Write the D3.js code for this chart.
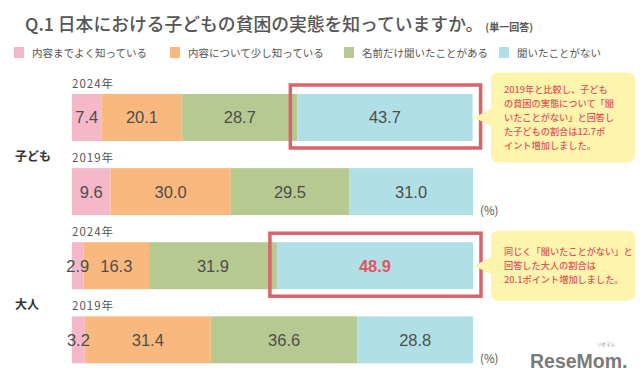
<!DOCTYPE html>
<html>
<head>
<meta charset="utf-8">
<script src="https://cdn.jsdelivr.net/npm/d3@7"></script>
<style>
  body { margin: 0; background: #fff; }
  svg { display: block; font-family: "Noto Sans CJK JP", "Liberation Sans", sans-serif; }
</style>
</head>
<body>
<div class="chart"></div>
<script>
var categories = ['内容までよく知っている', '内容について少し知っている', '名前だけ聞いたことがある', '聞いたことがない'];
var colors = ['#f5b8c9', '#f9b97e', '#b6c991', '#b0dfe5'];
var rows = ['子ども2024', '子ども2019', '大人2024', '大人2019'];
var groups = ['子ども', '大人'];
var years = ['2024年', '2019年', '2024年', '2019年'];
var values = [
  [7.4, 20.1, 28.7, 43.7],
  [9.6, 30.0, 29.5, 31.0],
  [2.9, 16.3, 31.9, 48.9],
  [3.2, 31.4, 36.6, 28.8]
];
var notes = [
  ['2019年と比較し、子ども', 'の貧困の実態について「聞', 'いたことがない」と回答し', 'た子どもの割合は12.7ポ', 'イント増加しました。'],
  ['同じく「聞いたことがない」と', '回答した大人の割合は', '20.1ポイント増加しました。']
];

var width = 640, height = 382;
var svg = d3.select('.chart').append('svg')
  .attr('width', width).attr('height', height);

// title
var title = svg.append('text')
  .attr('x', 25).attr('y', 31)
  .attr('fill', '#555').attr('font-size', 17.8).attr('font-weight', 500);
title.append('tspan').text('Q.1 日本における子どもの貧困の実態を知っていますか。');
title.append('tspan').attr('font-size', 10).attr('font-weight', 700).attr('dx', 2).text('(単一回答)');

// legend
var legendX = [14, 170, 344, 499];
var legend = svg.selectAll('.legend').data(categories).enter().append('g')
  .attr('transform', (d, i) => `translate(${legendX[i]}, 47)`);
legend.append('rect').attr('width', 10).attr('height', 11).attr('fill', (d, i) => colors[i]);
legend.append('text').attr('x', 18).attr('y', 10).attr('font-size', 10.5).attr('fill', '#555').text(d => d);

var x = d3.scaleLinear().domain([0, 100]).range([72, 473]);
var y = d3.scaleBand().domain(rows).range([94, 363.3]).paddingInner(0.366).paddingOuter(0);

var table = values.map((v, i) => {
  var o = { row: rows[i] };
  categories.forEach((c, j) => o[c] = v[j]);
  return o;
});
var series = d3.stack().keys(categories)(table);

svg.append('g').selectAll('g').data(series).enter().append('g')
  .attr('fill', (d, i) => colors[i])
  .selectAll('rect').data(d => d).enter().append('rect')
  .attr('x', d => x(d[0]))
  .attr('y', d => y(d.data.row))
  .attr('width', d => x(Math.min(d[1], 100)) - x(d[0]))
  .attr('height', y.bandwidth());

// value labels
svg.append('g').selectAll('g').data(series).enter().append('g')
  .selectAll('text').data((d, i) => d.map(p => ({ p: p, key: categories[i], ci: i }))).enter().append('text')
  .attr('x', d => (x(d.p[0]) + x(Math.min(d.p[1], 100))) / 2)
  .attr('y', d => y(d.p.data.row) + y.bandwidth() / 2)
  .attr('dy', '0.36em')
  .attr('text-anchor', 'middle')
  .attr('font-family', 'Liberation Sans, Arial, sans-serif')
  .attr('font-size', 16.5)
  .attr('fill', d => (d.p.data.row === '大人2024' && d.ci === 3) ? '#e0575f' : '#4d4d4d')
  .attr('font-weight', d => (d.p.data.row === '大人2024' && d.ci === 3) ? 700 : 400)
  .text(d => d3.format('.1f')(d.p.data[d.key]));

// year labels
svg.append('g').selectAll('text').data(rows).enter().append('text')
  .attr('x', 72).attr('y', d => y(d) - 6)
  .attr('font-size', 11.5).attr('letter-spacing', 1).attr('fill', '#555')
  .text((d, i) => years[i]);

// group labels
svg.append('g').selectAll('text').data(groups).enter().append('text')
  .attr('x', 15)
  .attr('y', (d, i) => (y(rows[i * 2]) + y.bandwidth() + y(rows[i * 2 + 1])) / 2 + 6)
  .attr('font-size', 12).attr('font-weight', 700).attr('fill', '#333')
  .text(d => d);

// (%) labels
svg.append('g').selectAll('text').data([rows[1], rows[3]]).enter().append('text')
  .attr('x', 480).attr('y', d => y(d) + y.bandwidth())
  .attr('font-size', 11.5).attr('fill', '#555')
  .text('(%)');

// highlight boxes around 聞いたことがない in 2024 rows
var hl = [0, 2];
svg.append('g').selectAll('rect').data(hl).enter().append('rect')
  .attr('x', r => x(series[3][r][0]) - 7)
  .attr('y', r => y(rows[r]) - 9)
  .attr('width', r => x(Math.min(series[3][r][1], 100)) - x(series[3][r][0]) + 15)
  .attr('height', y.bandwidth() + 16)
  .attr('fill', 'none').attr('stroke', '#d9626b').attr('stroke-width', 3.5);

// callouts
var callX = 491, callW = 144;
var callH = [90, 70];
var call = svg.append('g').selectAll('g').data(hl).enter().append('g')
  .attr('transform', (r, i) => `translate(${callX}, ${y(rows[r]) + y.bandwidth() / 2 - callH[i] / 2})`);
call.append('rect')
  .attr('width', callW).attr('height', (r, i) => callH[i])
  .attr('rx', 7).attr('fill', '#fdf4ad');
call.append('path')
  .attr('d', (r, i) => `M1,${callH[i] / 2 - 9} L-17,${callH[i] / 2} L1,${callH[i] / 2 + 9} Z`)
  .attr('fill', '#fdf4ad');
call.each(function (r, i) {
  var lines = notes[i];
  var lh = 14;
  var top = callH[i] / 2 - (lines.length - 1) * lh / 2;
  d3.select(this).selectAll('text').data(lines).enter().append('text')
    .attr('x', 13)
    .attr('y', (d, k) => top + k * lh)
    .attr('dy', '0.35em')
    .attr('font-size', 9.2).attr('font-weight', 500).attr('fill', '#e0545a')
    .text(d => d);
});

// logo
svg.append('text').attr('x', 530).attr('y', 368)
  .attr('font-family', 'Liberation Sans, Arial, sans-serif')
  .attr('font-size', 19.5).attr('font-weight', 700).attr('fill', '#7a7a7a')
  .text('ReseMom.');
svg.append('text').attr('x', 597).attr('y', 346)
  .attr('font-size', 4.5).attr('fill', '#888').text('リセマム');
</script>
</body>
</html>
